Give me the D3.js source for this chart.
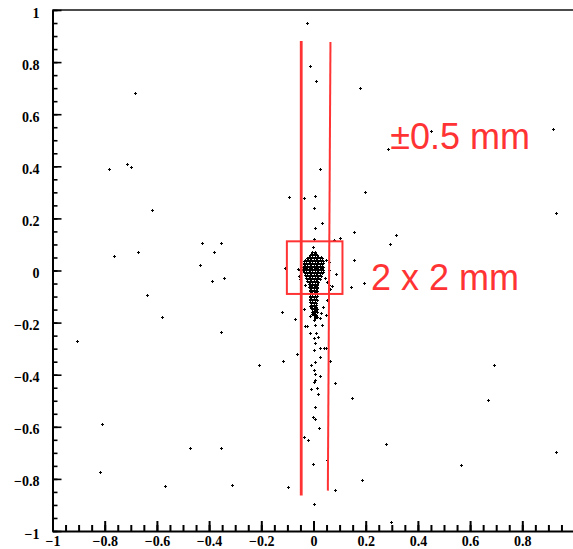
<!DOCTYPE html>
<html>
<head>
<meta charset="utf-8">
<script src="https://cdn.jsdelivr.net/npm/d3@7"></script>
<style>
  html, body { margin: 0; padding: 0; background: #fff; }
  svg { display: block; }
  .tick-label text { font-family: "Liberation Serif", "Times New Roman", serif; font-weight: bold; font-size: 14px; fill: #000; }
</style>
</head>
<body>
<svg id="chart" width="573" height="549"></svg>
<script>
// Scattered hits [x, y] across the full field
const scatteredHits = [
  [-0.685, 0.683], [-0.783, 0.390], [-0.713, 0.408], [-0.699, 0.398],
  [-0.024, 0.949], [-0.013, 0.786], [0.008, 0.729], [0.180, 0.702],
  [0.285, 0.465], [0.026, 0.390], [-0.092, 0.281], [-0.038, 0.277],
  [0.004, 0.285], [0.000, 0.239], [0.197, 0.301], [0.033, 0.184],
  [0.004, 0.165], [0.155, 0.148], [0.100, 0.126], [0.318, 0.135],
  [0.000, 0.121], [0.450, 0.536], [0.918, 0.544], [0.931, 0.222],
  [0.080, 0.117], [0.293, 0.100], [0.155, 0.039], [0.085, -0.012],
  [0.069, -0.060], [0.142, -0.062], [0.194, -0.049], [0.081, -0.431],
  [0.146, -0.488], [0.692, -0.363], [0.667, -0.497], [0.277, -0.665],
  [0.931, -0.698], [0.565, -0.748], [0.185, -0.803], [0.081, -0.844],
  [0.297, -0.965], [-0.809, -0.588], [-0.817, -0.772], [-0.473, -0.681],
  [-0.353, -0.681], [-0.569, -0.827], [-0.314, -0.823], [-0.617, 0.231],
  [-0.763, 0.056], [-0.671, 0.072], [-0.428, 0.106], [-0.353, 0.106],
  [-0.382, 0.072], [-0.436, 0.022], [-0.390, -0.040], [-0.344, -0.029],
  [-0.637, -0.095], [-0.582, -0.178], [-0.905, -0.271], [-0.353, -0.237],
  [-0.209, -0.363], [-0.099, -0.830], [0.000, -0.895], [-0.120, -0.158],
  [-0.072, -0.187], [-0.035, -0.149], [-0.063, -0.320], [-0.118, -0.347],
  [-0.001, 0.089], [-0.110, 0.011]
];

// Hits trailing down the central strip below the core
const stripHits = [
  [0.005, -0.523], [-0.001, -0.564], [0.004, -0.571], [0.022, -0.605],
  [-0.037, -0.638], [-0.020, -0.652], [-0.001, -0.743], [0.053, -0.727],
  [0.018, -0.473], [0.013, -0.451], [-0.009, -0.455], [0.000, -0.428],
  [0.026, -0.405], [0.006, -0.396], [0.005, -0.420], [0.003, -0.383],
  [-0.009, -0.363], [0.006, -0.350], [0.026, -0.331], [0.062, -0.347],
  [0.003, -0.305], [0.023, -0.299], [0.040, -0.299], [0.047, -0.299],
  [0.005, -0.277], [0.001, -0.260], [-0.012, -0.241], [0.008, -0.241],
  [0.018, -0.254], [-0.031, -0.212], [-0.024, -0.212], [0.005, -0.210],
  [0.032, -0.208], [0.024, -0.181], [-0.014, -0.173], [0.001, -0.190],
  [0.003, -0.164], [0.030, -0.164], [0.047, -0.171], [0.010, -0.141],
  [0.037, -0.141], [-0.005, -0.120], [0.008, -0.126], [0.053, -0.113]
];

// Hits around the edge of the core
const haloHits = [
  [-0.020, 0.047], [0.046, 0.040], [0.059, 0.034], [-0.059, 0.006],
  [-0.037, 0.008], [0.059, 0.002], [-0.054, -0.020], [-0.050, -0.034],
  [0.043, -0.030], [0.053, -0.043], [-0.033, -0.056], [0.059, -0.056],
  [0.063, -0.072], [-0.005, -0.088]
];

// Dense core of hits around the origin
const coreHits = [
  [-0.004, 0.071], [0.004, 0.071],
  [-0.012, 0.060], [-0.004, 0.060], [0.004, 0.060], [0.012, 0.060],
  [-0.023, 0.048], [-0.015, 0.048], [-0.008, 0.048], [0.000, 0.048], [0.008, 0.048], [0.015, 0.048], [0.023, 0.048], [0.031, 0.048],
  [-0.035, 0.036], [-0.027, 0.036], [-0.019, 0.036], [-0.012, 0.036], [-0.004, 0.036], [0.004, 0.036], [0.012, 0.036], [0.019, 0.036], [0.027, 0.036], [0.035, 0.036],
  [-0.038, 0.025], [-0.031, 0.025], [-0.023, 0.025], [-0.015, 0.025], [-0.008, 0.025], [0.000, 0.025], [0.008, 0.025], [0.015, 0.025], [0.023, 0.025], [0.031, 0.025],
  [-0.042, 0.013], [-0.035, 0.013], [-0.027, 0.013], [-0.019, 0.013], [-0.012, 0.013], [-0.004, 0.013], [0.004, 0.013], [0.012, 0.013], [0.019, 0.013], [0.027, 0.013], [0.035, 0.013],
  [-0.050, 0.002], [-0.042, 0.002], [-0.035, 0.002], [-0.027, 0.002], [-0.019, 0.002], [-0.012, 0.002], [-0.004, 0.002], [0.004, 0.002], [0.012, 0.002], [0.019, 0.002], [0.027, 0.002], [0.035, 0.002],
  [-0.031, -0.010], [-0.023, -0.010], [-0.015, -0.010], [-0.008, -0.010], [0.000, -0.010], [0.008, -0.010], [0.015, -0.010], [0.023, -0.010], [0.031, -0.010],
  [-0.027, -0.021], [-0.019, -0.021], [-0.012, -0.021], [-0.004, -0.021], [0.004, -0.021], [0.012, -0.021], [0.019, -0.021], [0.027, -0.021],
  [-0.023, -0.033], [-0.015, -0.033], [-0.008, -0.033], [0.000, -0.033], [0.008, -0.033], [0.015, -0.033], [0.023, -0.033],
  [-0.019, -0.044], [-0.012, -0.044], [-0.004, -0.044], [0.004, -0.044], [0.012, -0.044], [0.019, -0.044],
  [-0.015, -0.056], [-0.008, -0.056], [0.000, -0.056], [0.008, -0.056], [0.015, -0.056],
  [-0.015, -0.067], [-0.008, -0.067], [0.000, -0.067], [0.008, -0.067], [0.015, -0.067],
  [-0.012, -0.079], [-0.004, -0.079], [0.004, -0.079], [0.012, -0.079],
  [-0.012, -0.090], [-0.004, -0.090], [0.004, -0.090], [0.012, -0.090],
  [-0.015, -0.102], [-0.008, -0.102], [0.000, -0.102], [0.008, -0.102],
  [-0.012, -0.113], [-0.004, -0.113], [0.004, -0.113], [0.012, -0.113],
  [-0.008, -0.125], [0.000, -0.125], [0.008, -0.125],
  [-0.012, -0.136], [-0.004, -0.136], [0.004, -0.136],
  [-0.004, -0.148], [0.004, -0.148], [0.012, -0.148],
  [-0.004, -0.159], [0.004, -0.159], [0.012, -0.159],
  [0.000, -0.171], [0.008, -0.171],
  [0.004, -0.182]
];

// Further core hits lying between the rows above
const coreHitsInner = [
  [-0.008, 0.063], [0.000, 0.063], [0.008, 0.063],
  [-0.019, 0.052], [-0.012, 0.052], [-0.004, 0.052], [0.004, 0.052], [0.012, 0.052], [0.019, 0.052], [0.027, 0.052],
  [-0.031, 0.040], [-0.023, 0.040], [-0.015, 0.040], [-0.008, 0.040], [0.000, 0.040], [0.008, 0.040], [0.015, 0.040], [0.023, 0.040], [0.031, 0.040],
  [-0.035, 0.029], [-0.027, 0.029], [-0.019, 0.029], [-0.012, 0.029], [-0.004, 0.029], [0.004, 0.029], [0.012, 0.029], [0.019, 0.029], [0.027, 0.029], [0.035, 0.029],
  [-0.038, 0.017], [-0.031, 0.017], [-0.023, 0.017], [-0.015, 0.017], [-0.008, 0.017], [0.000, 0.017], [0.008, 0.017], [0.015, 0.017], [0.023, 0.017], [0.031, 0.017],
  [-0.046, 0.006], [-0.038, 0.006], [-0.031, 0.006], [-0.023, 0.006], [-0.015, 0.006], [-0.008, 0.006], [0.000, 0.006], [0.008, 0.006], [0.015, 0.006], [0.023, 0.006], [0.031, 0.006],
  [-0.035, -0.006], [-0.027, -0.006], [-0.019, -0.006], [-0.012, -0.006], [-0.004, -0.006], [0.004, -0.006], [0.012, -0.006], [0.019, -0.006], [0.027, -0.006], [0.035, -0.006],
  [-0.031, -0.017], [-0.023, -0.017], [-0.015, -0.017], [-0.008, -0.017], [0.000, -0.017], [0.008, -0.017], [0.015, -0.017], [0.023, -0.017],
  [-0.027, -0.029], [-0.019, -0.029], [-0.012, -0.029], [-0.004, -0.029], [0.004, -0.029], [0.012, -0.029], [0.019, -0.029],
  [-0.023, -0.040], [-0.015, -0.040], [-0.008, -0.040], [0.000, -0.040], [0.008, -0.040], [0.015, -0.040],
  [-0.019, -0.052], [-0.012, -0.052], [-0.004, -0.052], [0.004, -0.052], [0.012, -0.052],
  [-0.019, -0.063], [-0.012, -0.063], [-0.004, -0.063], [0.004, -0.063], [0.012, -0.063],
  [-0.015, -0.075], [-0.008, -0.075], [0.000, -0.075], [0.008, -0.075],
  [-0.015, -0.086], [-0.008, -0.086], [0.000, -0.086], [0.008, -0.086],
  [-0.012, -0.098], [-0.004, -0.098], [0.004, -0.098], [0.012, -0.098],
  [-0.015, -0.109], [-0.008, -0.109], [0.000, -0.109], [0.008, -0.109],
  [-0.012, -0.121], [-0.004, -0.121], [0.004, -0.121],
  [-0.008, -0.132], [0.000, -0.132], [0.008, -0.132],
  [-0.008, -0.144], [0.000, -0.144], [0.008, -0.144],
  [0.000, -0.155], [0.008, -0.155],
  [-0.004, -0.167], [0.004, -0.167],
  [0.004, -0.178], [0.012, -0.178]
];

// Axis ticks
const majorTicks = [-1, -0.8, -0.6, -0.4, -0.2, 0, 0.2, 0.4, 0.6, 0.8, 1];
const minorTicks = d3.range(-1, 1.0001, 0.05).map(v => +v.toFixed(2));
const xTickLabels = [-1, -0.8, -0.6, -0.4, -0.2, 0, 0.2, 0.4, 0.6, 0.8];
const yTickLabels = [-1, -0.8, -0.6, -0.4, -0.2, 0, 0.2, 0.4, 0.6, 0.8, 1];

// Annotation geometry in data units: strip edges, 2x2 box, captions
const stripEdgeLeft = [[-0.047, 0.881], [-0.047, -0.864]];
const stripEdgeRight = [[0.065, 0.877], [0.055, -0.845]];
const boxCorners = [[-0.102, 0.112], [0.111, -0.090]];
const captions = [
  { text: "\u00b10.5 mm", at: [0.294, 0.466] },
  { text: "2 x 2 mm", at: [0.220, -0.075] }
];

const red = "#ff3333";
const svg = d3.select("#chart");

const x = d3.scaleLinear().domain([-1, 1]).range([52.5, 574.5]);
const y = d3.scaleLinear().domain([-1, 1]).range([531, 10]);

// Frame top edge
svg.append("line")
  .attr("x1", x(-1)).attr("x2", x(1))
  .attr("y1", y(1)).attr("y2", y(1))
  .attr("stroke", "#111").attr("stroke-width", 1.6);

// Minor ticks
svg.append("g")
  .attr("transform", `translate(0,${y(-1)})`)
  .call(d3.axisBottom(x).tickValues(minorTicks).tickSizeInner(-6).tickSizeOuter(0).tickFormat(""))
  .call(g => g.select(".domain").remove())
  .call(g => g.selectAll(".tick line").attr("stroke-width", 2));
svg.append("g")
  .attr("transform", `translate(${x(-1)},0)`)
  .call(d3.axisLeft(y).tickValues(minorTicks).tickSizeInner(-5).tickSizeOuter(0).tickFormat(""))
  .call(g => g.select(".domain").remove())
  .call(g => g.selectAll(".tick line").attr("stroke-width", 1.6));

// Major ticks with labels
const fmt = d => (d === 0 ? "0" : d3.format("")(d));
svg.append("g")
  .attr("class", "tick-label")
  .attr("transform", `translate(0,${y(-1)})`)
  .call(d3.axisBottom(x).tickValues(majorTicks).tickSizeInner(-10).tickSizeOuter(0).tickPadding(5)
    .tickFormat(d => (xTickLabels.includes(d) ? fmt(d) : "")))
  .call(g => g.select(".domain").attr("stroke-width", 2))
  .call(g => g.selectAll(".tick line").attr("stroke-width", 2))
  .call(g => g.selectAll("text").attr("font-family", null).attr("font-size", null));
svg.append("g")
  .attr("class", "tick-label")
  .attr("transform", `translate(${x(-1)},0)`)
  .call(d3.axisLeft(y).tickValues(majorTicks).tickSizeInner(-9).tickSizeOuter(0).tickPadding(13)
    .tickFormat(d => (yTickLabels.includes(d) ? fmt(d) : "")))
  .call(g => g.select(".domain").attr("stroke-width", 2))
  .call(g => g.selectAll(".tick line").attr("stroke-width", 1.6))
  .call(g => g.selectAll("text").attr("font-family", null).attr("font-size", null).attr("dy", "0.5em"));

// Hit markers: small crosses snapped to the pixel grid
const allHits = scatteredHits.concat(stripHits, haloHits, coreHits, coreHitsInner);
const crossPath = d => {
  const cx = Math.round(x(d[0])), cy = Math.round(y(d[1]));
  return `M${cx - 1},${cy}h3v1h-3z M${cx},${cy - 1}h1v3h-1z`;
};
svg.append("g")
  .attr("shape-rendering", "crispEdges")
  .selectAll("path")
  .data(allHits)
  .join("path")
  .attr("d", crossPath)
  .attr("fill", "#000");

// Strip edges
svg.append("line")
  .attr("x1", x(stripEdgeLeft[0][0])).attr("y1", y(stripEdgeLeft[0][1]))
  .attr("x2", x(stripEdgeLeft[1][0])).attr("y2", y(stripEdgeLeft[1][1]))
  .attr("stroke", red).attr("stroke-width", 2.8);
svg.append("line")
  .attr("x1", x(stripEdgeRight[0][0])).attr("y1", y(stripEdgeRight[0][1]))
  .attr("x2", x(stripEdgeRight[1][0])).attr("y2", y(stripEdgeRight[1][1]))
  .attr("stroke", red).attr("stroke-width", 2);

// 2 x 2 mm box
svg.append("rect")
  .attr("x", x(boxCorners[0][0])).attr("y", y(boxCorners[0][1]))
  .attr("width", x(boxCorners[1][0]) - x(boxCorners[0][0]))
  .attr("height", y(boxCorners[1][1]) - y(boxCorners[0][1]))
  .attr("fill", "none").attr("stroke", red).attr("stroke-width", 2);

// Captions
svg.selectAll("text.caption")
  .data(captions)
  .join("text")
  .attr("class", "caption")
  .attr("x", d => x(d.at[0])).attr("y", d => y(d.at[1]))
  .attr("font-family", "'Liberation Sans', Arial, Helvetica, sans-serif")
  .attr("font-size", 36)
  .attr("fill", red)
  .text(d => d.text);
</script>
</body>
</html>
